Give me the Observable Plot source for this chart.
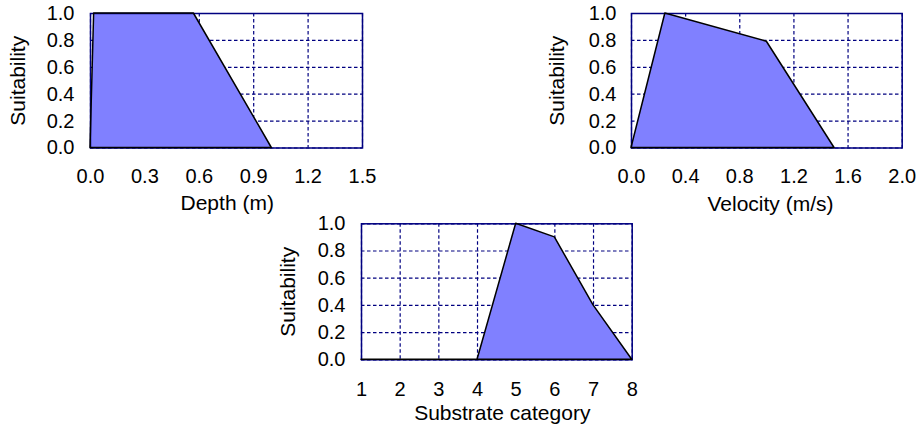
<!DOCTYPE html>
<html>
<head>
<meta charset="utf-8">
<script src="https://cdn.jsdelivr.net/npm/d3@7"></script>
<script src="https://cdn.jsdelivr.net/npm/@observablehq/plot@0.6"></script>
<style>
  html, body { margin: 0; padding: 0; background: #ffffff; }
  #root { position: relative; width: 919px; height: 430px; overflow: hidden; }
  .panel { position: absolute; }
  .panel svg { overflow: visible; }
</style>
</head>
<body>
<div id="root"></div>
<script>
// ---- Data ----
const depthX = [0, 0.02, 0.57, 1.0];
const depthY = [0, 1.0, 1.0, 0];
const depthTicks = [0, 0.3, 0.6, 0.9, 1.2, 1.5];

const velocityX = [0, 0.25, 1.0, 1.5];
const velocityY = [0, 1.0, 0.79, 0];
const velocityTicks = [0, 0.4, 0.8, 1.2, 1.6, 2.0];

const substrateX = [1, 2, 3, 4, 5, 6, 7, 8];
const substrateY = [0, 0, 0, 0, 1.0, 0.9, 0.4, 0];
const substrateTicks = [1, 2, 3, 4, 5, 6, 7, 8];

const suitTicks = [0, 0.2, 0.4, 0.6, 0.8, 1.0];
const yTitle = "Suitability";

const NAVY = "#000080";
const FILL = "#8080ff";

function panel({xs, ys, xTicks, xDomain, xFormat, xLabel, left, top, width, height, m, yPad, xPad, yTitleDx, xTitleDx, xTitleDy}) {
  const data = xs.map((x, i) => ({x, y: ys[i]}));
  const chart = Plot.plot({
    width, height,
    marginLeft: m[0], marginRight: m[1], marginTop: m[2], marginBottom: m[3],
    style: {fontFamily: "'Liberation Sans', Arial, sans-serif", fontSize: "20px", color: "black", background: "transparent", overflow: "visible"},
    x: {domain: xDomain, nice: false},
    y: {domain: [0, 1], nice: false},
    marks: [
      Plot.gridX(xTicks, {stroke: NAVY, strokeOpacity: 1, strokeWidth: 1.2, strokeDasharray: "3.5,2.5"}),
      Plot.gridY(suitTicks, {stroke: NAVY, strokeOpacity: 1, strokeWidth: 1.2, strokeDasharray: "3.5,2.5"}),
      Plot.areaY(data, {x: "x", y: "y", fill: FILL, fillOpacity: 1}),
      Plot.frame({stroke: NAVY, strokeWidth: 1.5}),
      Plot.areaY(data, {x: "x", y: "y", fill: "none", stroke: "black", strokeWidth: 1.5}),
      Plot.axisX(xTicks, {tickSize: 0, tickPadding: xPad, tickFormat: xFormat, label: null}),
      Plot.axisY(suitTicks, {tickSize: 0, tickPadding: yPad, tickFormat: d3.format(".1f"), label: null}),
      Plot.text([xLabel], {text: d => d, frameAnchor: "bottom", textAnchor: "middle", lineAnchor: "top", dx: xTitleDx, dy: xTitleDy, fontSize: 21}),
      Plot.text([yTitle], {text: d => d, frameAnchor: "left", textAnchor: "middle", rotate: -90, lineAnchor: "middle", dx: yTitleDx, fontSize: 21})
    ]
  });
  const div = document.createElement("div");
  div.className = "panel";
  div.style.left = left + "px";
  div.style.top = top + "px";
  div.appendChild(chart);
  document.getElementById("root").appendChild(div);
}

panel({xs: depthX, ys: depthY, xTicks: depthTicks, xDomain: [0, 1.5], xFormat: d3.format(".1f"), xLabel: "Depth (m)",
  left: 0, top: 0, width: 380, height: 215, m: [90, 18, 13, 67.5], yPad: 16, xPad: 21, yTitleDx: -72.5, xTitleDx: 0.7, xTitleDy: 46.8});

panel({xs: velocityX, ys: velocityY, xTicks: velocityTicks, xDomain: [0, 2.0], xFormat: d3.format(".1f"), xLabel: "Velocity (m/s)",
  left: 540, top: 0, width: 379, height: 215, m: [91, 17.3, 13, 67.5], yPad: 15, xPad: 21, yTitleDx: -74, xTitleDx: 3.6, xTitleDy: 47.7});

panel({xs: substrateX, ys: substrateY, xTicks: substrateTicks, xDomain: [1, 8], xFormat: d3.format("d"), xLabel: "Substrate category",
  left: 270, top: 215, width: 380, height: 215, m: [91, 18.3, 8.3, 70.7], yPad: 16, xPad: 22, yTitleDx: -73.5, xTitleDx: 5.4, xTitleDy: 45});
</script>
</body>
</html>
